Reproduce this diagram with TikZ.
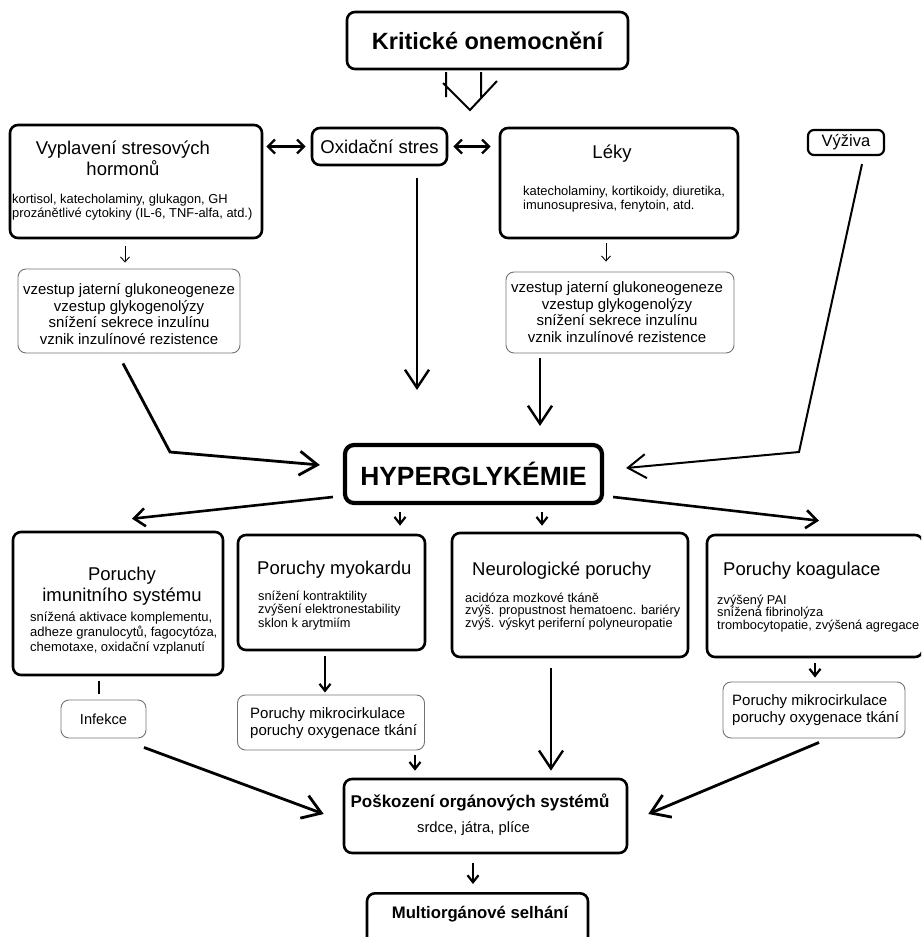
\documentclass[tikz,border=0pt]{standalone}
\usepackage{fontspec}
\setmainfont{Liberation Sans}
\usetikzlibrary{arrows.meta}

\newcommand{\fsz}[2]{\fontsize{#1}{#2}\selectfont}

\begin{document}
\begin{tikzpicture}[x=1pt,y=-1pt,
    box/.style={draw,line width=2.6pt,rounded corners=8pt,inner sep=0pt},
    thinbox/.style={draw=black!55,line width=0.9pt,rounded corners=8pt,inner sep=0pt},
    txt/.style={inner sep=0pt,anchor=base,align=center},
    ltxt/.style={inner sep=0pt,anchor=base west,align=left},
    ttl/.style={font=\fsz{18.5}{21}},
    smalltxt/.style={font=\fsz{12.9}{14}},
    bigarr/.style={line width=2.4pt,-{Straight Barb[length=18pt,width=24pt]}},
    medarr/.style={line width=2.6pt,-{Straight Barb[length=11pt,width=18pt]}},
    boldarr/.style={line width=2.2pt,-{Straight Barb[length=7pt,width=11pt]}},
    thinarr/.style={line width=0.9pt,-{Straight Barb[length=5pt,width=9pt]}},
    dblarr/.style={line width=2.4pt,{Straight Barb[length=7pt,width=14pt]}-{Straight Barb[length=7pt,width=14pt]}}
  ]
  \useasboundingbox (0,0) rectangle (921,937);
  \clip (0,0) rectangle (921,937);

  % top row
  \node[box,minimum width=281pt,minimum height=57pt,font=\fsz{23.5}{27}\bfseries] (krit) at (487.5,40.5) {Kritické onemocnění};
  \draw[line width=2pt] (446,72) -- (446,97) (481,72) -- (481,97) (443,83) -- (470,110) -- (497,81);

  \node[box,minimum width=252pt,minimum height=113pt] (vypl) at (136,181.5) {};
  \node[txt,ttl] (vyplT) at (123,175) {Vyplavení stresových\\hormonů};
  \node[ltxt,smalltxt] (vyplS) at (12,217) {kortisol, katecholaminy, glukagon, GH\\prozánětlivé cytokiny (IL-6, TNF-alfa, atd.)};

  \node[box,minimum width=135pt,minimum height=37pt,ttl] (oxid) at (379.5,146.5) {Oxidační stres};

  \node[box,minimum width=238pt,minimum height=110pt] (leky) at (619,183) {};
  \node[txt,ttl] (lekyT) at (612,158) {Léky};
  \node[ltxt,smalltxt] (lekyS) at (523,209) {katecholaminy, kortikoidy, diuretika,\\imunosupresiva, fenytoin, atd.};

  \node[box,line width=2.2pt,rounded corners=6pt,minimum width=76pt,minimum height=25pt,font=\fsz{16.5}{19}] (vyziva) at (846,142.5) {Výživa};

  \draw[dblarr,shorten <=3pt,shorten >=5pt] (vypl.east |- oxid.west) -- (oxid.west);
  \draw[dblarr,shorten <=5pt,shorten >=8pt] (oxid.east) -- (leky.west |- oxid.east);

  % glukoneogeneze
  \node[thinbox,minimum width=222pt,minimum height=84pt] (thinL) at (129,311) {};
  \node[txt,font=\fsz{15}{16.4}] (thinLT) at (129,344) {vzestup jaterní glukoneogeneze\\vzestup glykogenolýzy\\snížení sekrece inzulínu\\vznik inzulínové rezistence};
  \node[thinbox,minimum width=228pt,minimum height=81pt] (thinR) at (620,312.5) {};
  \node[txt,font=\fsz{15}{16.4}] (thinRT) at (617,342) {vzestup jaterní glukoneogeneze\\vzestup glykogenolýzy\\snížení sekrece inzulínu\\vznik inzulínové rezistence};

  \draw[thinarr] ([xshift=-11pt,yshift=-7pt]vypl.south) -- ([xshift=-4pt,yshift=6pt]thinL.north);
  \draw[thinarr] ([xshift=-13pt,yshift=-4pt]leky.south) -- ([xshift=-14pt,yshift=10pt]thinR.north);

  % hyperglykemie
  \node[box,line width=4.2pt,rounded corners=9pt,minimum width=257pt,minimum height=58pt,font=\fsz{26.4}{30}\bfseries] (hyper) at (473.5,474) {HYPERGLYKÉMIE};

  \coordinate (bendL) at (170,452);
  \coordinate (bendR) at (799,452);
  \draw[bigarr,line width=2.8pt] ([xshift=-6pt,yshift=-10pt]thinL.south) -- (bendL) -- ([xshift=-23pt,yshift=9pt]hyper.west);
  \draw[bigarr] ([xshift=37.5pt,yshift=-12pt]oxid.south) -- ([xshift=-56.5pt,yshift=53pt]hyper.north);
  \draw[bigarr] ([xshift=-80pt,yshift=-5pt]thinR.south) -- ([xshift=66.5pt,yshift=17pt]hyper.north);
  \draw[bigarr,line width=2pt] ([xshift=16pt,yshift=-8pt]vyziva.south) -- (bendR) -- ([xshift=22pt,yshift=6pt]hyper.east);

  % poruchy
  \node[box,minimum width=210pt,minimum height=143pt] (imun) at (118,603.5) {};
  \node[txt,ttl] (imunT) at (122,601) {Poruchy\\imunitního systému};
  \node[ltxt,font=\fsz{13}{15}] (imunS) at (30,651) {snížená aktivace komplementu,\\adheze granulocytů, fagocytóza,\\chemotaxe, oxidační vzplanutí};

  \node[box,minimum width=187pt,minimum height=115pt] (myok) at (331.5,592.5) {};
  \node[ltxt,ttl] (myokT) at (257,574) {Poruchy myokardu};
  \node[ltxt,font=\fsz{12.8}{13.2}] (myokS) at (258,627) {snížení kontraktility\\zvýšení elektronestability\\sklon k arytmiím};

  \node[box,minimum width=236pt,minimum height=124pt] (neuro) at (570,595) {};
  \node[ltxt,ttl] (neuroT) at (472,575) {Neurologické poruchy};
  \node[ltxt,font=\fsz{12.8}{12.5}] (neuroS) at (465,627) {acidóza mozkové tkáně\\zvýš. propustnost hematoenc. bariéry\\zvýš. výskyt periferní polyneuropatie};

  \node[box,minimum width=216pt,minimum height=122pt] (koag) at (815,596) {};
  \node[ltxt,ttl] (koagT) at (723,575) {Poruchy koagulace};
  \node[ltxt,font=\fsz{12.8}{12.3}] (koagS) at (717,629) {zvýšený PAI\\snížená fibrinolýza\\trombocytopatie, zvýšená agregace};

  \draw[medarr] ([xshift=-10pt,yshift=-23pt]hyper.west) -- ([xshift=14pt,yshift=12pt]imun.north);
  \draw[medarr] ([xshift=9pt,yshift=-23pt]hyper.east) -- ([xshift=4pt,yshift=13pt]koag.north);
  \draw[boldarr] ([xshift=-73.5pt,yshift=-7pt]hyper.south) -- ([xshift=68.5pt,yshift=8pt]myok.north);
  \draw[boldarr] ([xshift=68.5pt,yshift=-7pt]hyper.south) -- ([xshift=-28pt,yshift=6pt]neuro.north);

  % mikrocirkulace, infekce
  \node[thinbox,minimum width=85pt,minimum height=38pt,font=\fsz{14.6}{17}] (infekce) at (103.5,719) {Infekce};
  \node[thinbox,minimum width=187pt,minimum height=55pt] (mikroM) at (331,722.5) {};
  \node[ltxt,font=\fsz{15}{17}] (mikroMT) at (250,735) {Poruchy mikrocirkulace\\poruchy oxygenace tkání};
  \node[thinbox,minimum width=182pt,minimum height=56pt] (mikroR) at (814,710) {};
  \node[ltxt,font=\fsz{15}{17}] (mikroRT) at (732,722) {Poruchy mikrocirkulace\\poruchy oxygenace tkání};

  \draw[line width=2.4pt] ([xshift=-19pt,yshift=-5pt]imun.south) -- ([xshift=-4.5pt,yshift=6pt]infekce.north);
  \draw[boldarr] ([xshift=-6.5pt,yshift=-5pt]myok.south) -- ([xshift=-6pt,yshift=2pt]mikroM.north);
  \draw[boldarr] ([yshift=-5pt]koag.south) -- ([xshift=1pt,yshift=4pt]mikroR.north);

  % poskozeni
  \node[box,minimum width=283pt,minimum height=74pt] (posk) at (485.5,816) {};
  \node[txt,font=\fsz{17}{20}\bfseries] (poskT) at (480,807) {Poškození orgánových systémů};
  \node[txt,font=\fsz{14.8}{17}] (poskS) at (473.5,832) {srdce, játra, plíce};

  \draw[bigarr,line width=2.8pt] ([xshift=40.5pt,yshift=-9pt]infekce.south) -- ([xshift=-19pt,yshift=2pt]posk.west);
  \draw[boldarr] ([xshift=84pt,yshift=-5pt]mikroM.south) -- ([xshift=-70.5pt,yshift=7pt]posk.north);
  \draw[bigarr] ([xshift=-19pt,yshift=-10pt]neuro.south) -- ([xshift=65.5pt,yshift=7pt]posk.north);
  \draw[bigarr,line width=2.8pt] ([xshift=5pt,yshift=-4pt]mikroR.south) -- ([xshift=20pt,yshift=2pt]posk.east);

  % selhani
  \node[box,anchor=north,minimum width=221pt,minimum height=60pt] (multi) at (477.5,892) {};
  \node[txt,font=\fsz{16.7}{20}\bfseries] (multiT) at (480,918) {Multiorgánové selhání};
  \draw[boldarr] ([xshift=-12.5pt,yshift=-9pt]posk.south) -- ([xshift=-4.5pt,yshift=8pt]multi.north);
\end{tikzpicture}
\end{document}
